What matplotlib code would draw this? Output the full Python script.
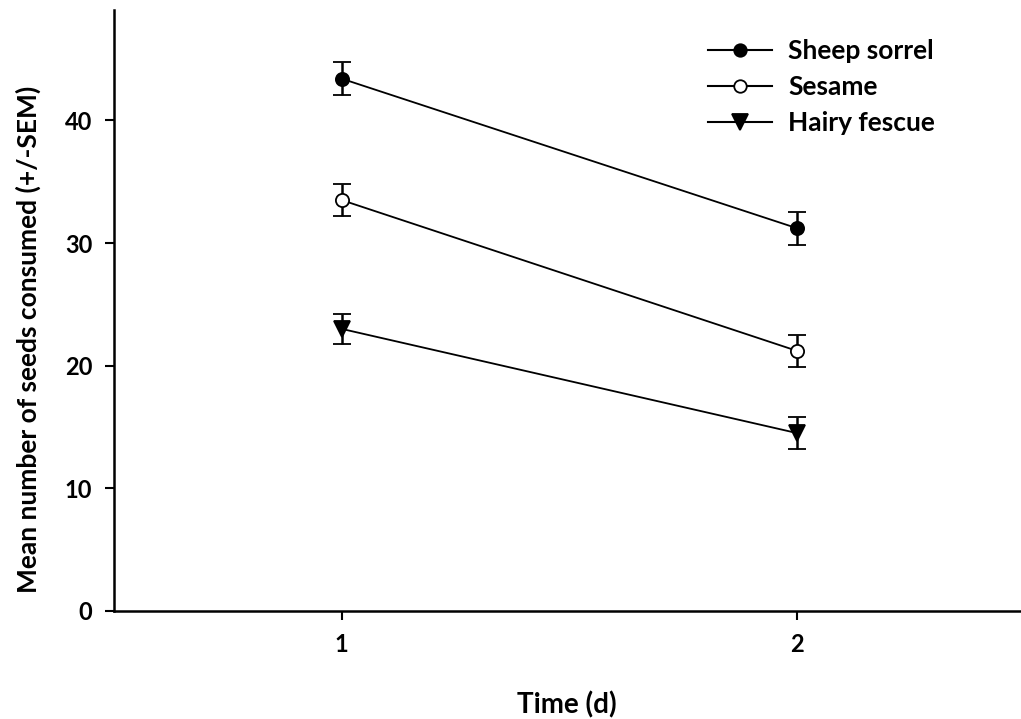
import matplotlib
matplotlib.use("Agg")
import matplotlib.pyplot as plt
from matplotlib.lines import Line2D

plt.rcParams['font.family'] = ['Lato', 'DejaVu Sans']
plt.rcParams['font.weight'] = 'bold'

time = [1, 2]
series_names = ["Sheep sorrel", "Sesame", "Hairy fescue"]
sheep_sorrel = [43.4, 31.2]
sheep_sorrel_sem = [1.32, 1.32]
sesame = [33.5, 21.2]
sesame_sem = [1.3, 1.3]
hairy_fescue = [23.0, 14.5]
hairy_fescue_sem = [1.25, 1.33]
y_ticks = [0, 10, 20, 30, 40]
x_ticks = [1, 2]

fig = plt.figure(figsize=(10.21, 7.19), dpi=100)
ax = fig.add_axes([114/1021, 1-611/719, 1-114/1021 - 0.0005, (611-10)/719])

styles = [
    dict(marker='o', mfc='black', mec='black'),
    dict(marker='o', mfc='white', mec='black'),
    dict(marker='v', mfc='black', mec='black'),
]
data = [(sheep_sorrel, sheep_sorrel_sem), (sesame, sesame_sem), (hairy_fescue, hairy_fescue_sem)]
for (vals, sem), st in zip(data, styles):
    ax.errorbar(time, vals, yerr=sem, color='black', lw=1.3, elinewidth=1.8,
                capsize=6.5, capthick=1.8, ms=9.5 if st['marker'] == 'o' else 11,
                mew=1.3, zorder=3, **st)

ax.set_xlim(0.5, 2.49)
ax.set_ylim(0, 49)
ax.set_xticks(x_ticks)
ax.set_yticks(y_ticks)
ax.spines['top'].set_visible(False)
ax.spines['right'].set_visible(False)
for s in ['left', 'bottom']:
    ax.spines[s].set_linewidth(1.8)
ax.tick_params(direction='out', length=6.5, width=1.5, labelsize=17, pad=9)
for lab in ax.get_xticklabels() + ax.get_yticklabels():
    lab.set_fontweight('bold')

ax.set_xlabel("Time (d)", fontsize=20, fontweight='bold', labelpad=26)
ax.set_ylabel("Mean number of seeds consumed (+/-SEM)", fontsize=19, fontweight='bold')
ax.yaxis.set_label_coords(-0.08, 0.452)

handles = []
for name, st in zip(series_names, styles):
    handles.append(Line2D([], [], color='black', lw=1.5, ms=9 if st['marker'] == 'o' else 11,
                          mew=1.3, label=name, **st))
leg = ax.legend(handles=handles, loc='upper left', bbox_to_anchor=((708-114)/907, (611-39)/601),
                frameon=False, borderpad=0, borderaxespad=0, handlelength=2.45,
                handletextpad=0.6, labelspacing=0.45, prop={'size': 19, 'weight': 'bold'})

fig.savefig("out.png", dpi=100)
